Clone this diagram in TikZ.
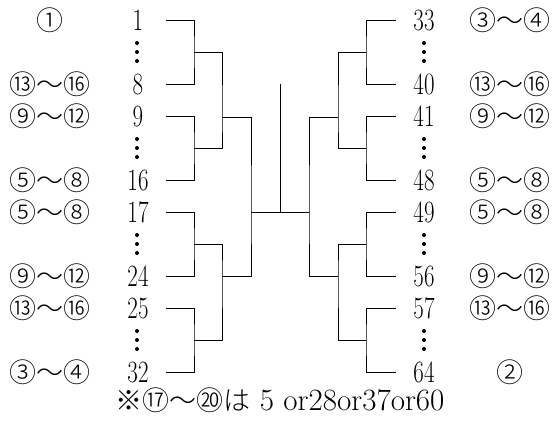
\documentclass[tikz,border=0pt]{standalone}
\usepackage{fontspec}
\newfontfamily\cjk{Noto Sans CJK JP Light}
\newcommand\nn[1]{\scalebox{.74}[1]{#1}}

\begin{document}
\begin{tikzpicture}[x=1pt,y=-1pt,line width=.9pt,
    num/.style={inner sep=0pt,minimum width=56pt,font=\fontsize{31}{31}\selectfont},
    circ/.style={inner sep=0pt,font=\cjk\fontsize{27}{27}\selectfont}]
    \useasboundingbox (0,0) rectangle (554,421);

    % left half
    \foreach \t/\b/\k in {1/8/0,9/16/1,17/24/2,25/32/3} {
        \node[num] (n\t) at (138,20+96*\k) {\nn{\t}};
        \node[num] (n\b) at (138,84+96*\k) {\nn{\b}};
        \coordinate (a\k) at (194,52+96*\k);
        \draw (n\t.east) -| (a\k) |- (n\b.east);
        \foreach \d in {43,52,61} \fill (137,\d+96*\k) circle (2pt);
    }
    % right half
    \foreach \t/\b/\k in {33/40/0,41/48/1,49/56/2,57/64/3} {
        \node[num] (n\t) at (424,20+96*\k) {\nn{\t}};
        \node[num] (n\b) at (424,84+96*\k) {\nn{\b}};
        \coordinate (e\k) at (366,52+96*\k);
        \draw (n\t.west) -| (e\k) |- (n\b.west);
        \foreach \d in {43,52,61} \fill (424,\d+96*\k) circle (2pt);
    }

    % seeds
    \foreach \n/\s in {1/①,8/⑬～⑯,9/⑨～⑫,16/⑤～⑧,17/⑤～⑧,24/⑨～⑫,25/⑬～⑯,32/③～④}
        \node[circ] (s\n) at (50,0 |- n\n) {\s};
    \foreach \n/\s in {33/③～④,40/⑬～⑯,41/⑨～⑫,48/⑤～⑧,49/⑤～⑧,56/⑨～⑫,57/⑬～⑯,64/②}
        \node[circ] (s\n) at (510,0 |- n\n) {\s};

    \coordinate (b0) at (222,117);
    \coordinate (b1) at (222,276);
    \coordinate (d0) at (338,117);
    \coordinate (d1) at (338,276);
    \coordinate (cL) at (251,212);
    \coordinate (cR) at (309,212);
    \coordinate (top) at (280,84);

    \draw (a0) -| (b0) |- (a1);
    \draw (a2) -| (b1) |- (a3);
    \draw (e0) -| (d0) |- (e1);
    \draw (e2) -| (d1) |- (e3);
    \draw (b0) -| (cL) |- (b1);
    \draw (d0) -| (cR) |- (d1);
    \draw (cL) -- (cR);
    \draw (top) -- (top |- cL);

    \node (note) at (280,400) {{\cjk\fontsize{27}{27}\selectfont ※⑰～⑳は}\fontsize{31}{31}\selectfont\ 5 or28or37or60};
\end{tikzpicture}
\end{document}
